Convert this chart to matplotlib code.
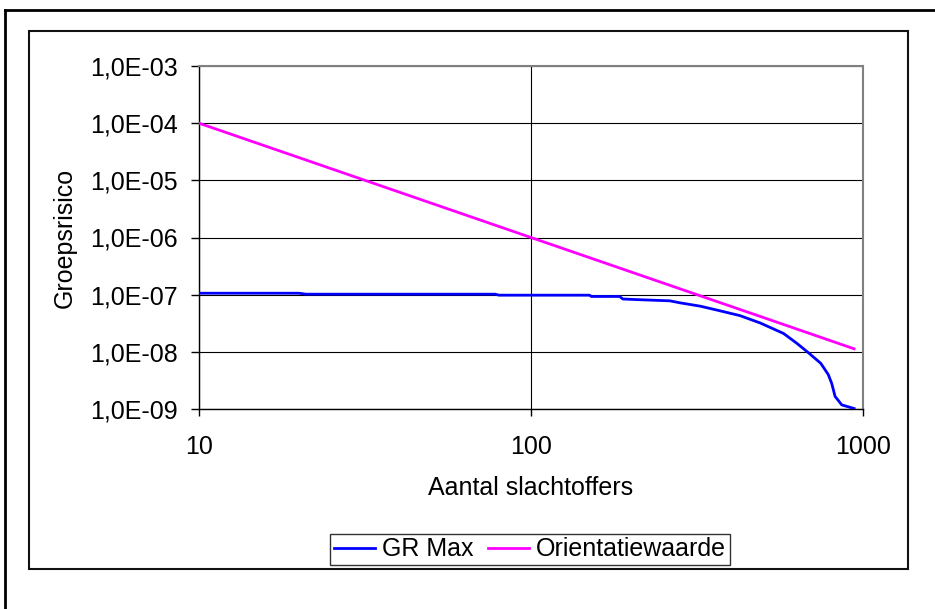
import matplotlib
matplotlib.use('Agg')
import matplotlib.pyplot as plt
from matplotlib.lines import Line2D
from matplotlib.patches import Rectangle

# GR Max curve
n_gr = [10, 20, 21, 78, 80, 150, 152, 185, 189, 208, 262, 281, 323, 362,
        426, 490, 576, 631, 684, 746, 786, 805, 824, 863, 940]
v_gr = [1.06e-7, 1.06e-7, 1.02e-7, 1.02e-7, 9.8e-8, 9.8e-8, 9.3e-8, 9.3e-8,
        8.4e-8, 8.2e-8, 7.8e-8, 7.2e-8, 6.3e-8, 5.4e-8, 4.3e-8, 3.2e-8,
        2.1e-8, 1.42e-8, 9.7e-9, 6.3e-9, 4.0e-9, 2.8e-9, 1.66e-9, 1.18e-9,
        1.02e-9]

# Orientatiewaarde line
n_ow = [10, 20, 50, 100, 200, 500, 940]
v_ow = [1e-4, 2.5e-5, 4e-6, 1e-6, 2.5e-7, 4e-8, 1.13e-8]

x_ticks = [10, 100, 1000]
x_labels = ['10', '100', '1000']
y_ticks = [1e-9, 1e-8, 1e-7, 1e-6, 1e-5, 1e-4, 1e-3]
y_labels = ['1,0E-09', '1,0E-08', '1,0E-07', '1,0E-06', '1,0E-05',
            '1,0E-04', '1,0E-03']

plt.rcParams['font.family'] = ['Liberation Sans', 'DejaVu Sans']
plt.rcParams['font.size'] = 18

W, H = 935, 609
fig = plt.figure(figsize=(W / 100, H / 100), dpi=100)
ax = fig.add_axes([199 / W, 1 - 409 / H, (863 - 199) / W, (409 - 66) / H])

# frames around the chart (pixel positions converted to figure fractions)
fig.add_artist(Line2D([5 / W, 5 / W], [0, 1 - 10 / H], color='black',
                      lw=2, transform=fig.transFigure))
fig.add_artist(Line2D([5 / W, 1], [1 - 10 / H, 1 - 10 / H], color='black',
                      lw=2, transform=fig.transFigure))
fig.add_artist(Rectangle((29 / W, 1 - 569 / H), (908 - 29) / W,
                         (569 - 31) / H, fill=False, edgecolor='#111111',
                         lw=1.5, transform=fig.transFigure))

ax.plot(n_gr, v_gr, color='#0000ff', lw=2, label='GR Max', zorder=3)
ax.plot(n_ow, v_ow, color='#ff00ff', lw=2, label='Orientatiewaarde', zorder=3)

ax.set_xscale('log')
ax.set_yscale('log')
ax.set_xlim(10, 1000)
ax.set_ylim(1e-9, 1e-3)
ax.set_xticks(x_ticks)
ax.set_xticklabels(x_labels)
ax.set_yticks(y_ticks)
ax.set_yticklabels(y_labels)
ax.minorticks_off()
ax.tick_params(axis='y', length=6, width=1, pad=9)
ax.tick_params(axis='x', length=5, width=1, pad=14)
ax.grid(True, which='major', color='black', lw=0.8)

for s in ['top', 'right']:
    ax.spines[s].set_color('#808080')
    ax.spines[s].set_linewidth(1.5)
for s in ['left', 'bottom']:
    ax.spines[s].set_color('black')
    ax.spines[s].set_linewidth(1)

ax.set_xlabel('Aantal slachtoffers', labelpad=12)
ax.set_ylabel('Groepsrisico', labelpad=10)

leg = fig.legend(loc='center', bbox_to_anchor=(530 / W, 1 - 549.5 / H),
                 ncol=2, frameon=True, fancybox=False, handlelength=1.64,
                 handletextpad=0.3, columnspacing=0.55, borderpad=0.15)
leg.get_frame().set_edgecolor('black')
leg.get_frame().set_linewidth(1)

plt.savefig('out.png', dpi=100)
